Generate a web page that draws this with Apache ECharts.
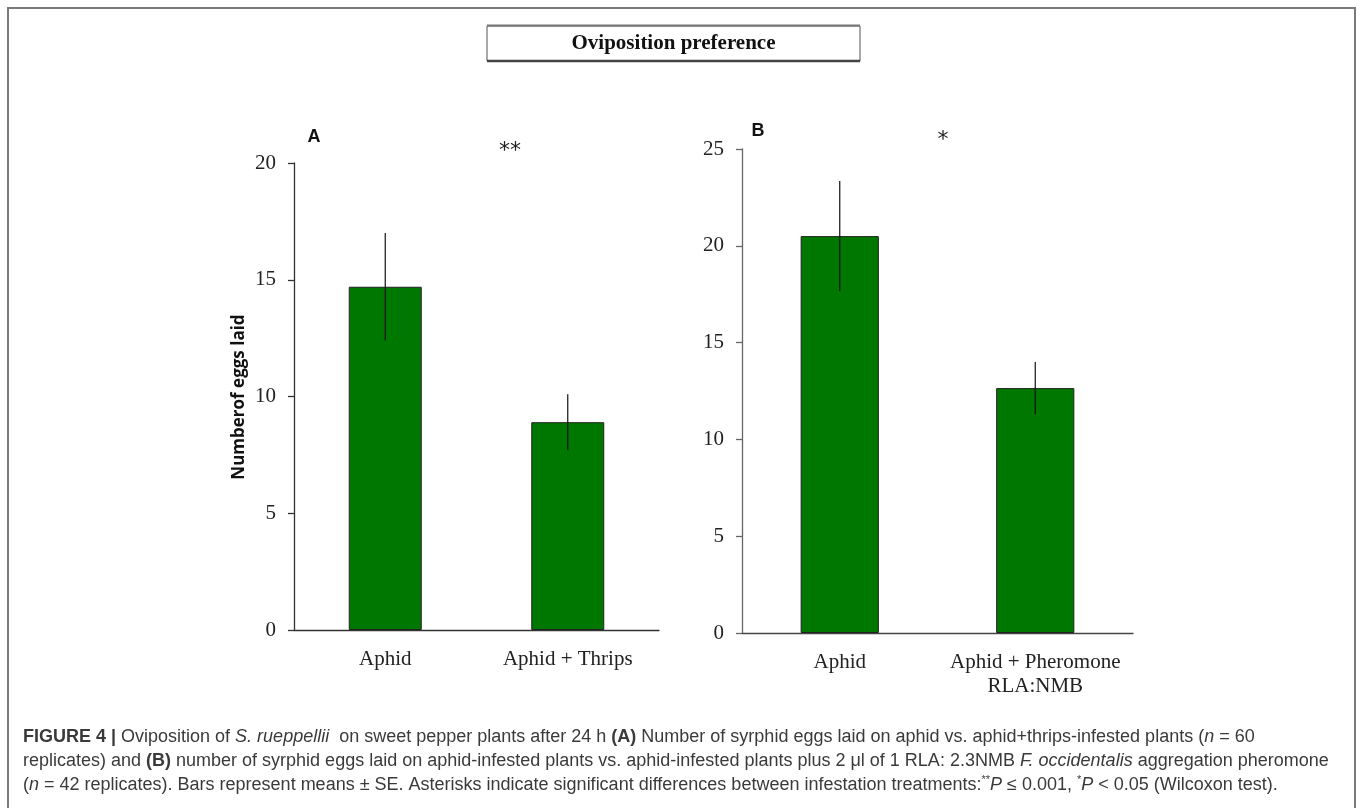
<!DOCTYPE html>
<html>
<head>
<meta charset="utf-8">
<script src="https://cdn.jsdelivr.net/npm/echarts@6/dist/echarts.min.js"></script>
<style>
html,body{margin:0;padding:0;background:#fff;}
#c{width:1362px;height:808px;}
</style>
</head>
<body>
<div id="c"></div>
<script>
// ---- data ----
const categoriesA = ['Aphid', 'Aphid + Thrips'];
const meansA = [14.7, 8.9];
const seA = [2.3, 1.2];
const categoriesB = ['Aphid', 'Aphid + Pheromone\nRLA:NMB'];
const meansB = [20.5, 12.65];
const seB = [2.85, 1.35];
const ticksA = { min: 0, max: 20, interval: 5 };
const ticksB = { min: 0, max: 25, interval: 5 };
const titleText = 'Oviposition preference';
const yAxisTitle = 'Numberof eggs laid';
const sigA = '**';
const sigB = '*';

const chart = echarts.init(document.getElementById('c'), null, { renderer: 'canvas' });

const serif = 'Liberation Serif';
const sans = 'Liberation Sans';
const barColor = '#007800';

function errData(m, s) { return m.map((v, i) => [i, v - s[i], v + s[i]]); }

function errSeries(xi, yi, m, s) {
  return {
    type: 'custom', xAxisIndex: xi, yAxisIndex: yi, z: 5,
    data: errData(m, s),
    encode: { x: 0, y: [1, 2] },
    renderItem: function (params, api) {
      const lo = api.coord([api.value(0), api.value(1)]);
      const hi = api.coord([api.value(0), api.value(2)]);
      return { type: 'line', shape: { x1: lo[0], y1: lo[1], x2: hi[0], y2: hi[1] },
               style: { stroke: '#111', lineWidth: 1.2 } };
    }
  };
}

function yAx(gi, t, lineColor) {
  return {
    type: 'value', gridIndex: gi, min: t.min, max: t.max, interval: t.interval,
    axisLine: { show: true, lineStyle: { color: lineColor, width: 1.3 } },
    axisTick: { show: true, inside: false, length: 6, lineStyle: { color: lineColor, width: 1.3 } },
    splitLine: { show: false },
    axisLabel: { fontFamily: serif, fontSize: 21, color: '#222', margin: 18 }
  };
}
function xAx(gi, cats, lineColor) {
  return {
    type: 'category', gridIndex: gi, data: cats,
    axisLine: { show: true, lineStyle: { color: lineColor, width: 1.3 } },
    axisTick: { show: false },
    axisLabel: { fontFamily: serif, fontSize: 21, color: '#222', margin: 17, lineHeight: 24, interval: 0 }
  };
}

const captionColor = '#3a3a3a';
const capRich = {
  b: { fontWeight: 'bold', fontFamily: sans, fontSize: 18, color: '#1a1a1a' },
  i: { fontStyle: 'italic', fontFamily: sans, fontSize: 18, color: captionColor },
  sup: { fontFamily: sans, fontSize: 11, color: captionColor, padding: [0, 0, 10, 0] }
};
const capLines = [
  '{b|FIGURE 4 |} Oviposition of {i|S. rueppellii}  on sweet pepper plants after 24 h {b|(A)} Number of syrphid eggs laid on aphid vs. aphid+thrips-infested plants ({i|n} = 60',
  'replicates) and {b|(B)} number of syrphid eggs laid on aphid-infested plants vs. aphid-infested plants plus 2 \u03bcl of 1 RLA: 2.3NMB {i|F. occidentalis} aggregation pheromone',
  '({i|n} = 42 replicates). Bars represent means \u00b1 SE. Asterisks indicate significant differences between infestation treatments:{sup|**}{i|P} \u2264 0.001, {sup|*}{i|P} < 0.05 (Wilcoxon test).'
];
const capY = [737, 761, 785];

const graphics = [
  // outer frame
  { type: 'polyline', shape: { points: [[8, 808], [8, 8], [1355, 8], [1355, 808]] },
    style: { stroke: '#7a7a7a', lineWidth: 2, fill: null }, silent: true },
  // title box
  { type: 'rect', shape: { x: 487, y: 26, width: 373, height: 35 },
    style: { stroke: '#555', lineWidth: 1, fill: '#fff' } },
  { type: 'line', shape: { x1: 487, y1: 25.5, x2: 860, y2: 25.5 }, style: { stroke: '#777', lineWidth: 2 } },
  { type: 'line', shape: { x1: 487, y1: 61, x2: 860, y2: 61 }, style: { stroke: '#444', lineWidth: 2.5 } },
  { type: 'text', x: 673.5, y: 44,
    style: { text: titleText, font: 'bold 21px "Liberation Serif"', fill: '#111', textAlign: 'center', textVerticalAlign: 'middle' } },
  // y axis title
  { type: 'text', x: 239, y: 397, rotation: Math.PI / 2,
    style: { text: yAxisTitle, font: 'bold 17px "Open Sans"', fill: '#111', textAlign: 'center', textVerticalAlign: 'middle' } },
  // panel letters
  { type: 'text', x: 314, y: 137, style: { text: 'A', font: 'bold 18px "Liberation Sans"', fill: '#111', textAlign: 'center', textVerticalAlign: 'middle' } },
  { type: 'text', x: 758, y: 131, style: { text: 'B', font: 'bold 18px "Liberation Sans"', fill: '#111', textAlign: 'center', textVerticalAlign: 'middle' } },
  // significance
  { type: 'text', x: 510, y: 151, style: { text: sigA, font: '22px "DejaVu Sans"', fill: '#222', textAlign: 'center', textVerticalAlign: 'middle' } },
  { type: 'text', x: 943, y: 140, style: { text: sigB, font: '22px "DejaVu Sans"', fill: '#222', textAlign: 'center', textVerticalAlign: 'middle' } }
];
capLines.forEach((t, i) => {
  graphics.push({ type: 'text', x: 23, y: capY[i],
    style: { text: t, rich: capRich, font: '18px "Liberation Sans"', fill: captionColor, textAlign: 'left', textVerticalAlign: 'middle' } });
});

const option = {
  animation: false,
  backgroundColor: '#fff',
  grid: [
    { left: 294, top: 163, width: 365, height: 467, containLabel: false, outerBoundsMode: 'none' },
    { left: 742, top: 149, width: 391, height: 484, containLabel: false, outerBoundsMode: 'none' }
  ],
  xAxis: [xAx(0, categoriesA, '#333'), xAx(1, categoriesB, '#444')],
  yAxis: [yAx(0, ticksA, '#333'), yAx(1, ticksB, '#666')],
  series: [
    { type: 'bar', xAxisIndex: 0, yAxisIndex: 0, data: meansA, barWidth: '40%',
      itemStyle: { color: barColor, borderColor: '#222', borderWidth: 1 } },
    { type: 'bar', xAxisIndex: 1, yAxisIndex: 1, data: meansB, barWidth: '40%',
      itemStyle: { color: barColor, borderColor: '#222', borderWidth: 1 } },
    errSeries(0, 0, meansA, seA),
    errSeries(1, 1, meansB, seB)
  ],
  graphic: { elements: graphics }
};
chart.setOption(option);
</script>
</body>
</html>
